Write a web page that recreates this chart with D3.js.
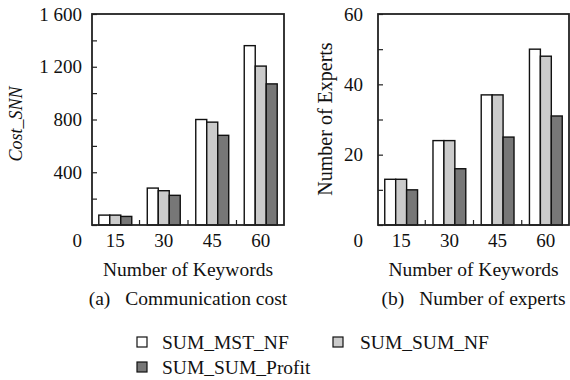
<!DOCTYPE html>
<html>
<head>
<meta charset="utf-8">
<script src="https://cdn.jsdelivr.net/npm/d3@7"></script>
<style>
  body { margin: 0; background: #fff; }
  text { font-family: 'Liberation Serif', 'Times New Roman', serif; fill: #111; }
</style>
</head>
<body>
<svg id="chart" width="570" height="380"></svg>
<script>
const keywords = [15, 30, 45, 60];
const seriesNames = ['SUM_MST_NF', 'SUM_SUM_NF', 'SUM_SUM_Profit'];
const seriesColors = ['#ffffff', '#cbcbcb', '#777777'];

// (a) communication cost
const costMstNf = [75, 280, 800, 1360];
const costSumNf = [75, 260, 780, 1205];
const costSumProfit = [65, 225, 680, 1070];
const costTicks = [0, 400, 800, 1200, 1600];
const costMinor = [200, 600, 1000, 1400];

// (b) number of experts
const expMstNf = [13, 24, 37, 50];
const expSumNf = [13, 24, 37, 48];
const expSumProfit = [10, 16, 25, 31];
const expTicks = [0, 20, 40, 60];
const expMinor = [10, 30, 50];

const svg = d3.select('#chart');
const spaced = d3.formatLocale({ decimal: '.', thousands: ' ', grouping: [3], currency: ['', ''] }).format(',');

const plotTop = 14, plotBottom = 225;

function panel(opts) {
  const g = svg.append('g');
  const rows = keywords.map((k, i) => ({ k, vals: opts.series.map(s => s[i]) }));

  const x = d3.scaleBand()
    .domain(keywords)
    .range([opts.left, opts.right])
    .paddingInner(0.32)
    .paddingOuter(0.14);
  const xs = d3.scaleBand().domain(d3.range(seriesNames.length)).range([0, x.bandwidth()]);
  const y = d3.scaleLinear().domain(opts.domain).range([plotBottom, plotTop]);
  const mid = (opts.left + opts.right) / 2;

  // bars
  g.append('g')
    .selectAll('g')
    .data(rows)
    .join('g')
    .attr('transform', d => `translate(${x(d.k)},0)`)
    .selectAll('rect')
    .data(d => d.vals)
    .join('rect')
    .attr('x', (d, i) => xs(i))
    .attr('y', d => y(d))
    .attr('width', xs.bandwidth())
    .attr('height', d => y(0) - y(d))
    .attr('fill', (d, i) => seriesColors[i])
    .attr('stroke', '#111')
    .attr('stroke-width', 1.4);

  // inward ticks on the left
  g.append('g')
    .attr('transform', `translate(${opts.left},0)`)
    .call(d3.axisRight(y).tickValues(opts.ticks.concat(opts.minor)).tickSize(5).tickFormat(''))
    .call(a => a.select('.domain').remove())
    .call(a => a.selectAll('line').attr('stroke', '#222').attr('stroke-width', 1.2));

  // tick labels (0 sits on the category row)
  g.append('g')
    .selectAll('text')
    .data(opts.ticks)
    .join('text')
    .attr('x', opts.left - opts.labelGap)
    .attr('y', d => d === 0 ? plotBottom + 15 : y(d))
    .attr('dy', '0.35em')
    .attr('text-anchor', 'end')
    .attr('font-size', 19)
    .text(d => opts.fmt(d));

  // group separators along the baseline
  const seps = keywords.slice(1).map(k => x(k) - x.step() * x.paddingInner() / 2);
  g.append('g')
    .selectAll('line')
    .data(seps)
    .join('line')
    .attr('x1', d => d).attr('x2', d => d)
    .attr('y1', plotBottom).attr('y2', plotBottom - 5)
    .attr('stroke', '#222')
    .attr('stroke-width', 1.2);

  // category labels
  g.append('g')
    .selectAll('text')
    .data(keywords)
    .join('text')
    .attr('x', d => x(d) + x.bandwidth() / 2)
    .attr('y', plotBottom + 15)
    .attr('dy', '0.35em')
    .attr('text-anchor', 'middle')
    .attr('font-size', 19)
    .text(d => d);

  // frame
  g.append('rect')
    .attr('x', opts.left)
    .attr('y', plotTop)
    .attr('width', opts.right - opts.left)
    .attr('height', plotBottom - plotTop)
    .attr('fill', 'none')
    .attr('stroke', '#222')
    .attr('stroke-width', 1.8);

  // axis titles
  g.append('text')
    .attr('transform', `translate(${opts.yTitleX},${opts.yTitleY}) rotate(-90)`)
    .attr('text-anchor', 'middle')
    .attr('dy', '0.35em')
    .attr('font-size', opts.yTitleSize)
    .attr('font-style', opts.yItalic ? 'italic' : null)
    .text(opts.yTitle);

  g.append('text')
    .attr('x', mid)
    .attr('y', 276)
    .attr('text-anchor', 'middle')
    .attr('font-size', 19.5)
    .text('Number of Keywords');

  const cap = g.append('text')
    .attr('x', mid)
    .attr('y', 305)
    .attr('text-anchor', 'middle')
    .attr('font-size', 19.5);
  cap.append('tspan').text(opts.captionTag);
  cap.append('tspan').attr('dx', 15).text(opts.caption);
}

panel({
  left: 92, right: 284,
  domain: [0, 1600],
  series: [costMstNf, costSumNf, costSumProfit],
  ticks: costTicks, minor: costMinor,
  fmt: spaced, labelGap: 10,
  yTitle: 'Cost_SNN', yItalic: true, yTitleX: 16, yTitleY: 124, yTitleSize: 18,
  captionTag: '(a)', caption: 'Communication cost'
});

panel({
  left: 378, right: 569,
  domain: [0, 60],
  series: [expMstNf, expSumNf, expSumProfit],
  ticks: expTicks, minor: expMinor,
  fmt: d => d, labelGap: 15,
  yTitle: 'Number of Experts', yItalic: false, yTitleX: 325, yTitleY: 119, yTitleSize: 20,
  captionTag: '(b)', caption: 'Number of experts'
});

// legend
const legendPos = [[137, 342], [333, 342], [137, 367]];
const legend = svg.append('g')
  .selectAll('g')
  .data(seriesNames)
  .join('g')
  .attr('transform', (d, i) => `translate(${legendPos[i][0]},${legendPos[i][1]})`);

legend.append('rect')
  .attr('x', 0).attr('y', -5)
  .attr('width', 10).attr('height', 10)
  .attr('fill', (d, i) => seriesColors[i])
  .attr('stroke', '#111')
  .attr('stroke-width', 1.2);

legend.append('text')
  .attr('x', (d, i) => i === 1 ? 27 : 25)
  .attr('dy', '0.35em')
  .attr('font-size', 19.5)
  .text(d => d);
</script>
</body>
</html>
